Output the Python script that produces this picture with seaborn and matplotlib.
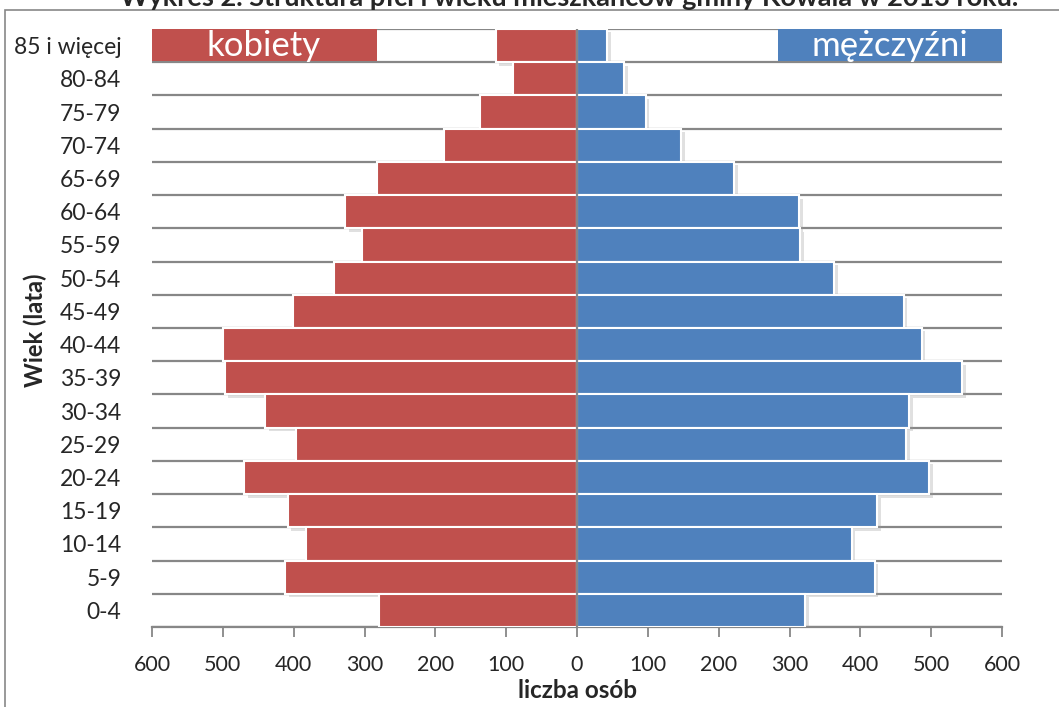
import numpy as np
import pandas as pd
import matplotlib
matplotlib.use("Agg")
import matplotlib.pyplot as plt
import matplotlib.patheffects as pe
from matplotlib.patches import Rectangle
import seaborn as sns

# ---- data ----
age_groups = ["85 i więcej", "80-84", "75-79", "70-74", "65-69", "60-64", "55-59",
              "50-54", "45-49", "40-44", "35-39", "30-34", "25-29", "20-24",
              "15-19", "10-14", "5-9", "0-4"]
women = [115, 90, 137, 188, 283, 327, 304, 343, 401, 500, 497, 440, 397, 470,
         408, 383, 412, 280]
men = [43, 67, 97, 147, 222, 314, 315, 363, 461, 487, 544, 469, 465, 497,
       424, 388, 420, 322]
x_ticks = [-600, -500, -400, -300, -200, -100, 0, 100, 200, 300, 400, 500, 600]
x_tick_labels = [str(abs(v)) for v in x_ticks]
title = "Wykres 2. Struktura płci i wieku mieszkańców gminy Kowala w 2013 roku."
women_label = "kobiety"
men_label = "mężczyźni"
x_label = "liczba osób"
y_label = "Wiek (lata)"

RED = "#C0504D"
BLUE = "#4F81BD"
GRAY = "#878787"

df = pd.DataFrame({
    "age": age_groups * 2,
    "value": [-v for v in women] + men,
    "sex": [women_label] * len(women) + [men_label] * len(men),
})

sns.set_theme(style="white")
plt.rcParams["font.family"] = ["Lato", "DejaVu Sans"]

fig = plt.figure(figsize=(10.59, 7.07), dpi=100)
ax = fig.add_axes([152 / 1059, 1 - 627 / 707, 850 / 1059, 598 / 707])

sns.barplot(data=df, x="value", y="age", hue="sex", order=age_groups,
            hue_order=[women_label, men_label], palette=[RED, BLUE],
            saturation=1, orient="h", dodge=False, width=1.0, legend=False,
            edgecolor="white", linewidth=1.5, ax=ax, zorder=3)

for p in ax.patches:
    p.set_path_effects([pe.SimplePatchShadow(offset=(2.5, -2.5), shadow_rgbFace="#9a9a9a", alpha=0.3),
                        pe.Normal()])

ax.set_xlim(-600, 600)
ax.set_ylim(len(age_groups) - 0.5, -0.5)

# row-boundary gridlines
ax.set_yticks(np.arange(-0.5, len(age_groups), 1.0), minor=True)
ax.grid(which="minor", axis="y", color=GRAY, linewidth=1.6, zorder=0)
ax.grid(which="major", axis="both", visible=False)
ax.set_axisbelow(True)
ax.tick_params(axis="y", which="minor", length=0)

ax.axvline(0, color=GRAY, linewidth=1.6, zorder=5)

for s in ["top", "right", "left"]:
    ax.spines[s].set_visible(False)
ax.spines["bottom"].set_color(GRAY)
ax.spines["bottom"].set_linewidth(1.6)

ax.set_xticks(x_ticks)
ax.set_xticklabels(x_tick_labels, fontsize=15.5)
ax.tick_params(axis="x", which="major", direction="out", length=7, width=1.3,
               color=GRAY, pad=13, bottom=True)
ax.tick_params(axis="y", which="major", length=0, pad=22, labelsize=16.5)
ax.set_ylabel("")
ax.set_xlabel("")

fig.text(577 / 1059, 1 - 690 / 707, x_label, ha="center", va="center",
         fontsize=17.5, fontweight="bold")
fig.text(35 / 1059, 1 - 330 / 707, y_label, ha="center", va="center",
         rotation=90, fontsize=17, fontweight="bold")

# legend boxes (overlay labels)
ax.add_patch(Rectangle((0, 1 - 32 / 598), 225 / 850, 32 / 598, transform=ax.transAxes,
                       facecolor=RED, edgecolor="none", zorder=6))
ax.text(112 / 850, 1 - 17 / 598, women_label, transform=ax.transAxes, ha="center",
        va="center", color="white", fontsize=25, zorder=7)
ax.add_patch(Rectangle((626 / 850, 1 - 32 / 598), 224 / 850, 32 / 598, transform=ax.transAxes,
                       facecolor=BLUE, edgecolor="none", zorder=6))
ax.text(738 / 850, 1 - 17 / 598, men_label, transform=ax.transAxes, ha="center",
        va="center", color="white", fontsize=25, zorder=7)

# outer chart frame
fig.patches.append(Rectangle((5 / 1059, -0.05), 1.2, 1 - 10 / 707 + 0.05,
                             transform=fig.transFigure, facecolor="none",
                             edgecolor=GRAY, linewidth=1.2))

fig.text(569 / 1059, 1 - 6 / 707, title, ha="center", va="baseline",
         fontsize=19.5, fontweight="bold")

fig.savefig("out.png", dpi=100)
